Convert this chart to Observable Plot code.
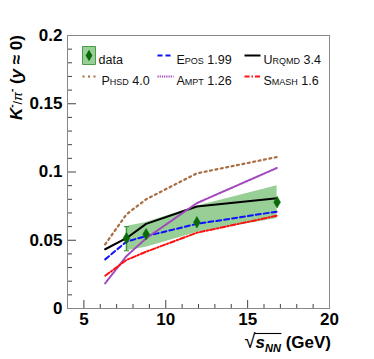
<!DOCTYPE html>
<html><head><meta charset="utf-8">
<script src="https://cdn.jsdelivr.net/npm/d3@7"></script>
<script src="https://cdn.jsdelivr.net/npm/@observablehq/plot@0.6"></script>
<style>
body{margin:0;background:#fff}
#c{width:374px;height:359px}
</style>
</head><body><div id="c"></div>
<script>
// measured data (NA61/SHINE-like energies)
const energies = [7.6, 8.8, 11.9, 16.8];
const ratio = [0.0515, 0.0544, 0.0632, 0.0779];
const statLow = [0.0423, 0.0528, 0.0617, 0.0764];
const statHigh = [0.0600, 0.0560, 0.0647, 0.0794];
const sysLow = [0.0423, 0.0448, 0.0556, 0.0660];
const sysHigh = [0.0600, 0.0630, 0.0750, 0.0900];
// model curves
const modelEnergies = [6.3, 7.6, 8.8, 11.9, 16.8];
const epos = [0.036, 0.049, 0.053, 0.062, 0.071];
const urqmd = [0.0434, 0.0515, 0.062, 0.0747, 0.0808];
const phsd = [0.047, 0.069, 0.080, 0.099, 0.111];
const ampt = [0.0184, 0.0384, 0.0514, 0.0772, 0.103];
const smash = [0.024, 0.0355, 0.0416, 0.0555, 0.068];
// ticks
const xMajor = [5, 10, 15, 20];
const xMinor = [6, 7, 8, 9, 11, 12, 13, 14, 16, 17, 18, 19];
const yMajor = [0, 0.05, 0.1, 0.15, 0.2];
const yMinor = [0.01, 0.02, 0.03, 0.04, 0.06, 0.07, 0.08, 0.09, 0.11, 0.12, 0.13, 0.14, 0.16, 0.17, 0.18, 0.19];
const yTickLabels = ["0", "0.05", "0.1", "0.15", "0.2"];

const W = 374, H = 359, mL = 67, mR = 45, mT = 35, mB = 51;
const fw = W - mL - mR, fh = H - mT - mB;

const models = [
  {label: "Epos 1.99", values: epos, stroke: "#1010ff", dash: "5,3", width: 2, col: 1, row: 0},
  {label: "Urqmd 3.4", values: urqmd, stroke: "#000000", dash: null, width: 2, col: 2, row: 0},
  {label: "Phsd 4.0", values: phsd, stroke: "#a86c40", dash: "2,3.5", width: 2.2, col: 0, row: 1},
  {label: "Ampt 1.26", values: ampt, stroke: "#a048bc", dash: "1.2,1", width: 2, col: 1, row: 1},
  {label: "Smash 1.6", values: smash, stroke: "#ff1010", dash: "5,2,1.5,2", width: 2, col: 2, row: 1}
];

const pts = energies.map((e, i) => ({e, r: ratio[i], lo: statLow[i], hi: statHigh[i], slo: sysLow[i], shi: sysHigh[i]}));

const tallDiamond = {
  draw(ctx, size) {
    const r = Math.sqrt(size / Math.PI);
    const w = r * 0.85, h = r * 1.45;
    ctx.moveTo(0, -h); ctx.lineTo(w, 0); ctx.lineTo(0, h); ctx.lineTo(-w, 0); ctx.closePath();
  }
};
const hline = {draw(ctx) { ctx.moveTo(-8, 0); ctx.lineTo(8, 0); }};
const cap = {draw(ctx) { ctx.moveTo(-2.5, 0); ctx.lineTo(2.5, 0); }};
const box = {draw(ctx) { ctx.rect(-6.5, -9, 13, 18); }};

const colX = [15, 90, 177];
const rowY = [20, 41];

const marks = [
  Plot.areaY(pts, {x: "e", y1: "slo", y2: "shi", fill: "#97cf97"}),
  Plot.ruleX(pts, {x: "e", y1: "lo", y2: "hi", stroke: "#3f9a3f", strokeWidth: 1.5}),
  Plot.dot(pts.slice(0, 1), {x: "e", y: "lo", symbol: cap, stroke: "#3f9a3f", strokeWidth: 1.2}),
  Plot.dot(pts.slice(0, 1), {x: "e", y: "hi", symbol: cap, stroke: "#3f9a3f", strokeWidth: 1.2}),
  ...models.map(m => Plot.line(modelEnergies.map((e, i) => ({e, v: m.values[i]})), {
    x: "e", y: "v", stroke: m.stroke, strokeWidth: m.width, strokeDasharray: m.dash
  })),
  Plot.dot(pts, {x: "e", y: "r", symbol: tallDiamond, r: 4, fill: "#0a6a0a", stroke: "#0a6a0a", strokeWidth: 0.5}),
  // ticks inside frame
  Plot.tickX(xMajor, {x: d => d, insetTop: fh - 8, stroke: "#444"}),
  Plot.tickX(xMinor, {x: d => d, insetTop: fh - 4, stroke: "#444"}),
  Plot.tickY(yMajor, {y: d => d, insetRight: fw - 9, stroke: "#444"}),
  Plot.tickY(yMinor, {y: d => d, insetRight: fw - 5, stroke: "#444"}),
  Plot.frame({stroke: "#888", strokeWidth: 1}),
  Plot.axisX({ticks: xMajor, tickSize: 0, tickPadding: 4, fontSize: 17, fontWeight: "bold", tickFormat: d => String(d)}),
  Plot.axisY({ticks: yMajor, tickSize: 0, tickPadding: 5, fontSize: 17, fontWeight: "bold", tickFormat: d => yTickLabels[yMajor.indexOf(d)]}),
  // legend
  Plot.dot([0], {frameAnchor: "top-left", dx: colX[0] + 6.5, dy: rowY[0], symbol: box, fill: "#97cf97", stroke: "#4a9c4a", strokeWidth: 1}),
  Plot.dot([0], {frameAnchor: "top-left", dx: colX[0] + 6.5, dy: rowY[0], symbol: tallDiamond, r: 4, fill: "#0a6a0a"}),
  Plot.text(["data"], {frameAnchor: "top-left", dx: colX[0] + 16, dy: rowY[0], text: d => d, textAnchor: "start", fontSize: 12.5, fontWeight: "normal", fill: "#111"}),
  ...models.map(m => Plot.dot([0], {frameAnchor: "top-left", dx: colX[m.col] + 8, dy: rowY[m.row], symbol: hline, stroke: m.stroke, strokeWidth: m.width, strokeDasharray: m.dash})),
  ...models.map(m => Plot.text([m.label], {frameAnchor: "top-left", dx: colX[m.col] + 19, dy: rowY[m.row], text: d => d, textAnchor: "start", fontSize: 12.5, fontWeight: "normal", fontVariant: "small-caps", fill: "#111"}))
];

const plot = Plot.plot({
  width: W, height: H,
  marginLeft: mL, marginRight: mR, marginTop: mT, marginBottom: mB,
  x: {type: "linear", domain: [4, 20], label: null},
  y: {type: "linear", domain: [0, 0.2], label: null},
  style: {fontFamily: "Liberation Sans, Arial, sans-serif", background: "#fff", color: "#000", overflow: "visible"},
  marks
});
document.getElementById("c").appendChild(plot);

const svg = d3.select(plot);
// y-axis label
const yl = svg.append("text")
  .attr("transform", `translate(22,${mT}) rotate(-90)`)
  .attr("text-anchor", "end")
  .attr("font-family", "Liberation Sans, Arial, sans-serif")
  .attr("font-weight", "bold")
  .attr("font-size", 17)
  .attr("fill", "#000");
yl.append("tspan").attr("font-style", "italic").text("K");
yl.append("tspan").attr("font-size", 10).attr("dy", -7).text("-");
yl.append("tspan").attr("font-size", 13).attr("dy", 7).attr("font-weight", "normal").text("/");
yl.append("tspan").attr("font-size", 13).attr("font-style", "italic").attr("font-weight", "normal").text("π");
yl.append("tspan").attr("font-size", 10).attr("dy", -7).text("-");
yl.append("tspan").attr("dy", 7).text(" (");
yl.append("tspan").attr("font-style", "italic").text("y");
yl.append("tspan").text(" ≈ 0)");

// x-axis label
const xl = svg.append("text")
  .attr("x", W - mR + 2).attr("y", 348)
  .attr("text-anchor", "end")
  .attr("font-family", "Liberation Sans, Arial, sans-serif")
  .attr("font-weight", "bold")
  .attr("font-size", 17)
  .attr("fill", "#000");
xl.append("tspan").attr("font-weight", "normal").attr("font-size", 20).text("√");
xl.append("tspan").attr("font-style", "italic").text("s");
xl.append("tspan").attr("font-style", "italic").attr("font-size", 11).attr("dy", 4).text("NN");
xl.append("tspan").attr("dy", -4).text(" (GeV)");
// overline of the radical
let x1 = 252, x2 = 280;
try {
  const node = xl.node();
  const p0 = node.getStartPositionOfChar(0), w0 = node.getSubStringLength(0, 1);
  const p3 = node.getStartPositionOfChar(3), w3 = node.getSubStringLength(3, 1);
  x1 = p0.x + w0 - 1; x2 = p3.x + w3 + 0.5;
} catch (err) {}
svg.append("line")
  .attr("x1", x1).attr("x2", x2)
  .attr("y1", 333.5).attr("y2", 333.5)
  .attr("stroke", "#000").attr("stroke-width", 1.1);
</script>
</body></html>
